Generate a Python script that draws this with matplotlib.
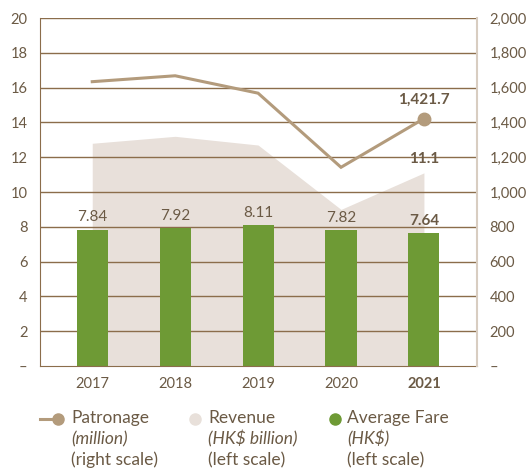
import matplotlib
matplotlib.use("Agg")
import matplotlib.pyplot as plt
from matplotlib.lines import Line2D

years = ["2017", "2018", "2019", "2020", "2021"]
avg_fare = [7.84, 7.92, 8.11, 7.82, 7.64]
revenue = [12.8, 13.2, 12.7, 9.0, 11.1]
patronage = [1634, 1668, 1568, 1142, 1421.7]
left_ticks = [0, 2, 4, 6, 8, 10, 12, 14, 16, 18, 20]
right_ticks = [0, 200, 400, 600, 800, 1000, 1200, 1400, 1600, 1800, 2000]

TXT = "#6b5a45"
GRID = "#8b6d4b"
LINE = "#b39b7c"
FILL = "#e8e0da"
GREEN = "#6e9a35"

plt.rcParams['font.family'] = ['Lato', 'DejaVu Sans']

fig = plt.figure(figsize=(5.26, 4.71), dpi=100)
ax = fig.add_axes([40/526, 1-366/471, (477-40)/526, (366-18)/471])
ax2 = ax.twinx()

x = list(range(len(years)))
ax.fill_between(x, 0, revenue, color=FILL, lw=0, zorder=1)
for t in left_ticks[1:]:
    ax.axhline(t, color=GRID, lw=1.0, zorder=1.5)
bars = ax.bar(x, avg_fare, width=0.375, color=GREEN, zorder=2)
for i, v in enumerate(avg_fare):
    bold = i == len(years) - 1
    ax.text(i, v + 0.3, f"{v:.2f}", ha="center", va="bottom", fontsize=11,
            color=TXT, fontweight="bold" if bold else "normal", zorder=3)
ax.text(x[-1], revenue[-1] + 0.4, f"{revenue[-1]:.1f}", ha="center", va="bottom",
        fontsize=11, color=TXT, fontweight="bold", zorder=3)

ax.set_xlim(-0.63, 4.64)
ax.set_ylim(0, 20)
ax2.set_ylim(0, 2000)

ax2.plot(x, patronage, color=LINE, lw=2.2, solid_joinstyle="miter", zorder=3)
ax2.plot([x[-1]], [patronage[-1]], "o", color=LINE, ms=9, zorder=4)
ax2.text(x[-1], patronage[-1] + 70, "1,421.7", ha="center", va="bottom",
         fontsize=11, color=TXT, fontweight="bold")

ax.set_yticks(left_ticks)
ax.set_yticklabels(["–"] + [str(t) for t in left_ticks[1:]])
ax2.set_yticks(right_ticks)
ax2.set_yticklabels(["–"] + [f"{t:,}" for t in right_ticks[1:]])
ax.set_xticks(x)
ax.set_xticklabels(years)
for lbl in ax.get_xticklabels():
    lbl.set_color(TXT)
ax.get_xticklabels()[-1].set_fontweight("bold")

ax.tick_params(axis="y", length=0, pad=9, labelsize=10.5, labelcolor=TXT)
ax2.tick_params(axis="y", length=0, pad=9, labelsize=10.5, labelcolor=TXT)
ax.tick_params(axis="x", length=0, pad=8, labelsize=10.5)

ax.spines["top"].set_visible(False)
ax2.spines["top"].set_visible(False)
ax2.patch.set_visible(False)
ax.spines["left"].set_color(GRID)
ax.spines["bottom"].set_color(GRID)
ax.spines["right"].set_visible(False)
ax2.spines["left"].set_visible(False)
ax2.spines["bottom"].set_visible(False)
ax2.spines["right"].set_color("#d8cdc1")
ax2.spines["right"].set_linewidth(1.5)

# legend
fig.lines.append(Line2D([40/526, 57/526], [1-419/471]*2, color=LINE, lw=2.2, transform=fig.transFigure))
fig.lines.append(Line2D([58/526], [1-419/471], marker="o", color=LINE, ms=8, transform=fig.transFigure))
fig.lines.append(Line2D([195/526], [1-419/471], marker="o", color=FILL, ms=8, transform=fig.transFigure))
fig.lines.append(Line2D([335/526], [1-419/471], marker="o", color=GREEN, ms=8, transform=fig.transFigure))
entries = [(71, "Patronage", "(million)", "(right scale)"),
           (208, "Revenue", "(HK$ billion)", "(left scale)"),
           (347, "Average Fare", "(HK$)", "(left scale)")]
for px, a, b, c in entries:
    fig.text(px/526, 1-418/471, a, fontsize=12.5, color=TXT, va="center", ha="left")
    fig.text(px/526, 1-439/471, b, fontsize=12.5, color=TXT, va="center", ha="left", style="italic")
    fig.text(px/526, 1-460/471, c, fontsize=12.5, color=TXT, va="center", ha="left")

fig.savefig("out.png", dpi=100)
